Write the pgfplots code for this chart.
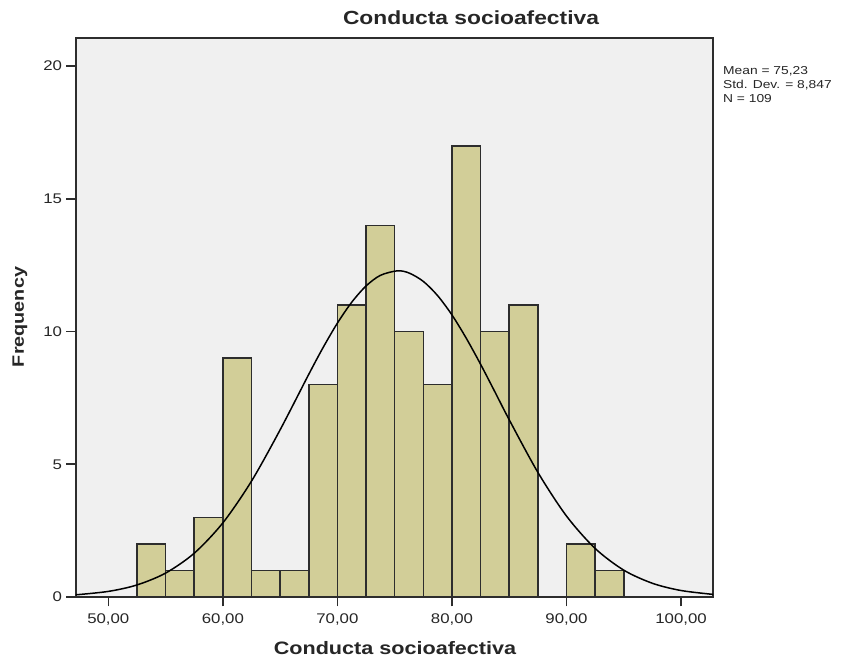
\documentclass[border=0pt]{standalone}
\usepackage{fontspec}
\setmainfont[FakeStretch=1.2]{Liberation Sans}
\usepackage{pgfplots}
\pgfplotsset{compat=1.18}
\definecolor{barfill}{RGB}{210,206,152}
\definecolor{bg}{RGB}{240,240,240}
\definecolor{edge}{RGB}{45,45,45}
\begin{document}
\begin{tikzpicture}[x=1pt,y=1pt]
\path[use as bounding box] (0,0) rectangle (855,664);
\begin{axis}[
  at={(76pt,67pt)}, anchor=south west,
  scale only axis, width=637pt, height=559pt,
  xmin=47.18, xmax=102.79, ymin=0, ymax=21.06,
  axis background/.style={fill=bg},
  axis line style={edge, line width=1.8pt},
  tick style={edge, line width=1.6pt},
  tick align=outside, major tick length=9.5pt,
  xtick pos=bottom, ytick pos=left,
  xtick={50,60,70,80,90,100},
  xticklabels={{50,00},{60,00},{70,00},{80,00},{90,00},{100,00}},
  ytick={0,5,10,15,20},
  yticklabels={0,5,10,15,20},
  tick label style={font=\fontsize{14}{14}\selectfont, text=black!85},
  xticklabel style={yshift=-4pt},
  yticklabel style={xshift=-1pt},
  clip=true,
]
\addplot[ybar interval, fill=barfill, draw=edge, line width=1.5pt] coordinates {
(52.5,2) (55,1) (57.5,3) (60,9) (62.5,1) (65,1) (67.5,8) (70,11) (72.5,14)
(75,10) (77.5,8) (80,17) (82.5,10) (85,11) (87.5,0) (90,2) (92.5,1) (95,0)};
\addplot[black, line width=1.5pt, smooth] coordinates {
(47,0.0756) (50,0.2105) (52.5,0.453) (55,0.900) (57.5,1.649) (60,2.792)
(62.5,4.365) (65,6.298) (67.5,8.389) (68.75,9.397) (70,10.318) (71.25,11.105)
(72.5,11.717) (73.75,12.117) (75.23,12.288) (76.25,12.207) (77.5,11.890)
(78.75,11.353) (80,10.627) (81.25,9.748) (82.5,8.768) (83.75,7.728) (85,6.677)
(87.5,4.697) (90,3.050) (92.5,1.829) (95,1.011) (97.5,0.517) (100,0.244) (103,0.0891)};
\end{axis}
\node[font=\fontsize{19}{19}\selectfont\bfseries, text=black!85] at (471,646) {Conducta socioafectiva};
\node[font=\fontsize{18}{18}\selectfont\bfseries, text=black!85] at (395,16) {Conducta socioafectiva};
\node[font=\fontsize{16.5}{16.5}\selectfont\bfseries, text=black!85, rotate=90] at (20,347) {Frequency};
\node[anchor=north west, align=left, inner sep=0pt, font=\fontsize{11.5}{14}\selectfont, text=black!85] at (723,598) {Mean = 75,23\\Std. Dev. = 8,847\\N = 109};
\end{tikzpicture}
\end{document}
